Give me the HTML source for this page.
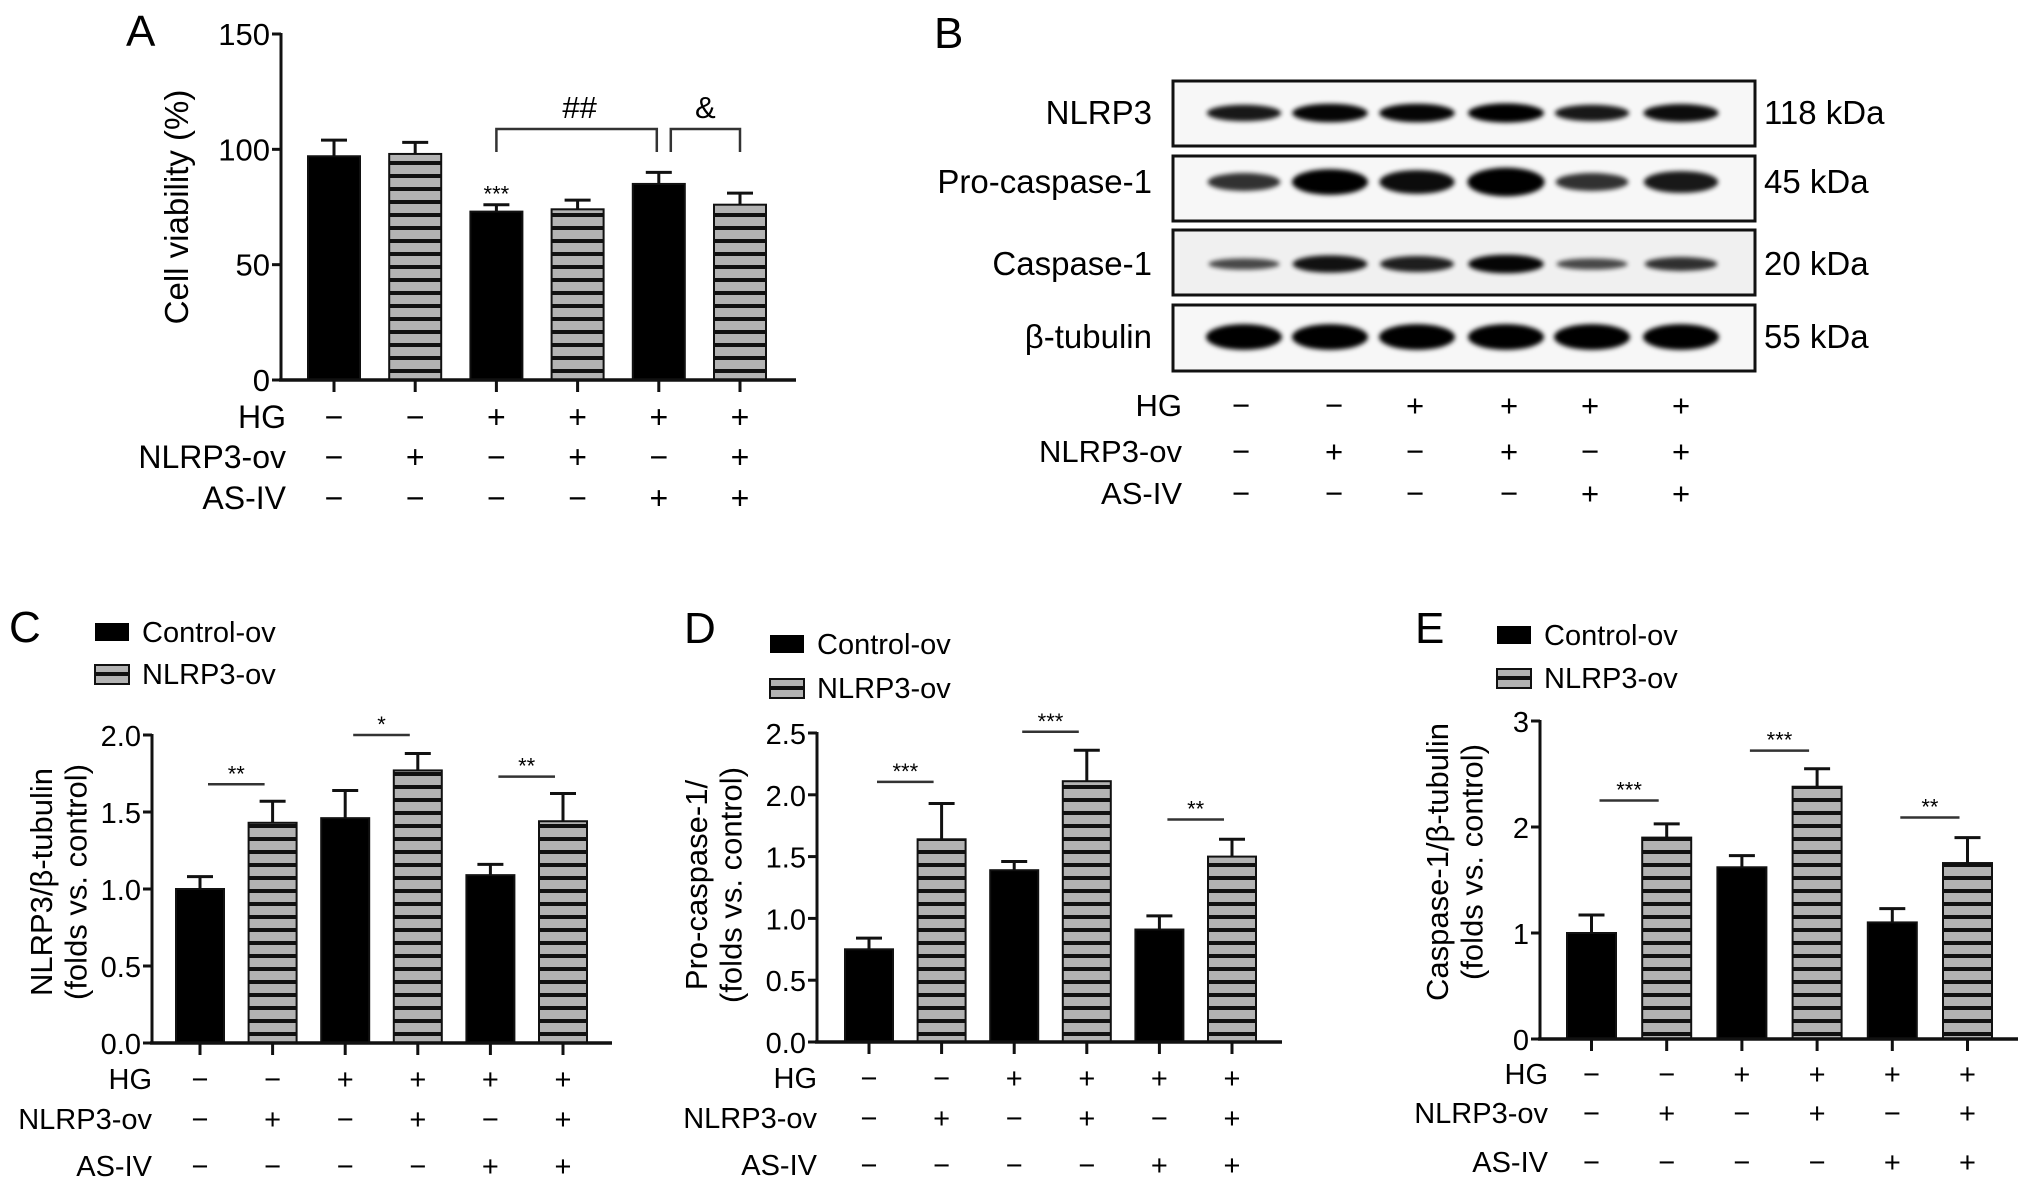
<!DOCTYPE html>
<html><head><meta charset="utf-8">
<style>
html,body{margin:0;padding:0;background:#fff;}
svg{display:block;font-family:"Liberation Sans",Arial,sans-serif;}
</style></head>
<body>
<svg id="fig" width="2032" height="1188" viewBox="0 0 2032 1188" xmlns="http://www.w3.org/2000/svg">
<defs>
<pattern id="hatch" patternUnits="userSpaceOnUse" width="20" height="13">
<rect width="20" height="13" fill="#b3b3b3"/><rect y="5" width="20" height="4" fill="#111"/>
</pattern>
<filter id="blur" x="-20%" y="-100%" width="140%" height="300%"><feGaussianBlur stdDeviation="2.5"/></filter>
</defs>
<g id="root"></g>
</svg>
<script>
// ---- data ----
const groups = ['g1','g2','g3','g4','g5','g6'];
const hgSigns = ['−','−','+','+','+','+'];
const nlrpSigns = ['−','+','−','+','−','+'];
const asivSigns = ['−','−','−','−','+','+'];

const aValues = [97, 98, 73, 74, 85, 76];
const aErrors = [104, 103, 76, 78, 90, 81];
const aTicks = [0, 50, 100, 150];

const cValues = [1.0, 1.43, 1.46, 1.77, 1.09, 1.44];
const cErrors = [1.08, 1.57, 1.64, 1.88, 1.16, 1.62];
const cTicks = ['0.0','0.5','1.0','1.5','2.0'];
const cSig = [['**',1.68],['*',2.0],['**',1.73]];

const dValues = [0.75, 1.64, 1.39, 2.11, 0.91, 1.50];
const dErrors = [0.84, 1.93, 1.46, 2.36, 1.02, 1.64];
const dTicks = ['0.0','0.5','1.0','1.5','2.0','2.5'];
const dSig = [['***',2.105],['***',2.51],['**',1.80]];

const eValues = [1.0, 1.90, 1.62, 2.38, 1.10, 1.66];
const eErrors = [1.17, 2.03, 1.73, 2.55, 1.23, 1.90];
const eTicks = ['0','1','2','3'];
const eSig = [['***',2.25],['***',2.72],['**',2.09]];

// blot band intensities (relative thickness)
const blotRows = ['NLRP3','Pro-caspase-1','Caspase-1','β-tubulin'];
const blotKda = ['118 kDa','45 kDa','20 kDa','55 kDa'];
const nlrp3Band = [0.8, 0.95, 0.95, 1.0, 0.8, 0.9];
const procaspBand = [0.6, 1.0, 0.9, 1.15, 0.6, 0.8];
const caspBand = [0.4, 0.85, 0.75, 0.95, 0.4, 0.6];
const tubulinBand = [1.0, 1.0, 1.0, 1.0, 1.0, 1.0];

const NS='http://www.w3.org/2000/svg';
const root=document.getElementById('root');
function el(tag, attrs, parent, text){
  const e=document.createElementNS(NS,tag);
  for(const k in attrs) e.setAttribute(k, attrs[k]);
  if(text!==undefined) e.textContent=text;
  (parent||root).appendChild(e);
  return e;
}

function panel(p){
  const g=el('g',{});
  
  
  const ymax=p.ymax;
  const y = v => p.y0 - (v/ymax)*(p.y0-p.ytop);
  const cx = i => p.c0 + i*p.pitch;
  const L=el('text',{x:p.lx,y:p.ly,'font-size':44},g,p.letter);
  
  
  const ya=el('line',{x1:p.ax,y1:p.ytop-1,x2:p.ax,y2:p.y0,stroke:'#111','stroke-width':3},g);
  
  
  p.ticks.forEach((t,i)=>{
    const v=i*ymax/(p.ticks.length-1);
    const ty=y(v);
    el('line',{x1:p.ax-9,y1:ty,x2:p.ax,y2:ty,stroke:'#111','stroke-width':3},g);
    const tl=el('text',{x:p.ax-11,y:ty+11,'font-size':p.tfs,'text-anchor':'end'},g,t);
    
    
  });
  const yt=el('text',{transform:`translate(${p.ytx},${p.yty}) rotate(-90)`,'font-size':p.ytfs,'text-anchor':'middle'},g);
  
  
  p.ytitle.forEach((line,i)=>{ el('tspan',{x:0,dy:i===0?0:p.ytfs*1.12},yt,line); });
  const bw=p.bw;
  p.values.forEach((v,i)=>{
    const x=cx(i)-bw/2;
    const ev=p.errors[i];
    el('line',{x1:cx(i),y1:y(v),x2:cx(i),y2:y(ev),stroke:'#111','stroke-width':3},g);
    el('line',{x1:cx(i)-13,y1:y(ev),x2:cx(i)+13,y2:y(ev),stroke:'#111','stroke-width':3},g);
    const b=el('rect',{x:x,y:y(v),width:bw,height:p.y0-y(v),fill:i%2?'url(#hatch)':'#000',stroke:'#111','stroke-width':2},g);
    
    
    el('line',{x1:cx(i),y1:p.y0,x2:cx(i),y2:p.y0+12,stroke:'#111','stroke-width':3},g);
  });
  const xa=el('line',{x1:p.ax-2,y1:p.y0,x2:p.xend,y2:p.y0,stroke:'#111','stroke-width':3.5},g);
  
  
  if(p.sig){
    p.sig.forEach((s,k)=>{
      const sy=y(s[1]);
      el('line',{x1:cx(2*k)+8,y1:sy,x2:cx(2*k+1)-8,y2:sy,stroke:'#333','stroke-width':2.5},g);
      const st=el('text',{x:(cx(2*k)+cx(2*k+1))/2,y:sy-3,'font-size':22,'text-anchor':'middle'},g,s[0]);
      
      
    });
  }
  if(p.leg){
    const lg=el('g',{},g);
    
    
    el('rect',{x:p.leg[0],y:p.leg[1],width:34,height:18,fill:'#000'},lg);
    el('text',{x:p.leg[0]+47,y:p.leg[1]+19,'font-size':29},lg,'Control-ov');
    el('rect',{x:p.leg[0],y:p.leg[2],width:34,height:19,fill:'#b3b3b3',stroke:'#111','stroke-width':2},lg);
    el('rect',{x:p.leg[0],y:p.leg[2]+7,width:34,height:4,fill:'#111'},lg);
    el('text',{x:p.leg[0]+47,y:p.leg[2]+19,'font-size':29},lg,'NLRP3-ov');
  }
  signRows(g, p.rows, p.rowRight, groups.map((_,i)=>cx(i)), p.fs);
  return {g,y,cx};
}

function signRows(g, rows, right, xs, fs){
  const names=['HG','NLRP3-ov','AS-IV'];
  const sets=[hgSigns,nlrpSigns,asivSigns];
  rows.forEach((ry,r)=>{
    const t=el('text',{x:right,y:ry+11,'font-size':fs,'text-anchor':'end'},g,names[r]);
    
    
    sets[r].forEach((s,i)=>{
      el('text',{x:xs[i],y:ry+11,'font-size':fs,'text-anchor':'middle'},g,s);
    });
  });
}

// Panel A
const A=panel({name:'panel-a-cell-viability',letter:'A',lx:126,ly:46,ax:281,y0:380,ytop:34,ymax:150,
  ticks:aTicks.map(String),fs:32,tfs:31,ytitle:['Cell viability (%)'],ytx:188,yty:207,ytfs:33,
  values:aValues,errors:aErrors,c0:334,pitch:81.2,bw:52,xend:796,rows:[417,457,498],rowRight:286});
(function(){
  const g=A.g;
  const b1=el('path',{d:`M${A.cx(2)} 152 V129 H${A.cx(4)-2} V152`,fill:'none',stroke:'#333','stroke-width':2.5},g);
  
  
  const b2=el('path',{d:`M${A.cx(4)+12} 152 V129 H${A.cx(5)} V152`,fill:'none',stroke:'#333','stroke-width':2.5},g);
  
  
  el('text',{x:(A.cx(2)+A.cx(4))/2+2,y:118,'font-size':31,'text-anchor':'middle'},g,'##');
  el('text',{x:(A.cx(4)+A.cx(5))/2+6,y:118,'font-size':31,'text-anchor':'middle'},g,'&');
  el('text',{x:A.cx(2),y:A.y(aErrors[2])-3,'font-size':22,'text-anchor':'middle'},g,'***');
})();

// Panel C
panel({name:'panel-c-nlrp3',letter:'C',lx:9,ly:642,ax:152,y0:1043,ytop:735,ymax:2.0,
  ticks:cTicks,fs:29,tfs:29,ytitle:['NLRP3/β-tubulin','(folds vs. control)'],ytx:52,yty:882,ytfs:31,
  values:cValues,errors:cErrors,c0:200,pitch:72.6,bw:48,xend:612,sig:cSig,leg:[95,623,665],
  rows:[1078,1118,1165],rowRight:152});
// Panel D
panel({name:'panel-d-procaspase1',letter:'D',lx:684,ly:643,ax:817,y0:1042,ytop:733,ymax:2.5,
  ticks:dTicks,fs:29,tfs:29,ytitle:['Pro-caspase-1/','(folds vs. control)'],ytx:707,yty:885,ytfs:31,
  values:dValues,errors:dErrors,c0:869,pitch:72.6,bw:48,xend:1282,sig:dSig,leg:[770,635,679],
  rows:[1077,1117,1164],rowRight:817});
// Panel E
panel({name:'panel-e-caspase1',letter:'E',lx:1415,ly:643,ax:1540,y0:1039,ytop:721,ymax:3,
  ticks:eTicks,fs:29,tfs:29,ytitle:['Caspase-1/β-tubulin','(folds vs. control)'],ytx:1448,yty:862,ytfs:31,
  values:eValues,errors:eErrors,c0:1591.5,pitch:75.2,bw:49,xend:2018,sig:eSig,leg:[1497,626,669],
  rows:[1073,1112,1161],rowRight:1548});

// Panel B: western blot
(function(){
  const g=el('g',{});
  
  
  el('text',{x:934,y:48,'font-size':44},g,'B');
  const boxes=[[81,146],[156,221],[230,295],[305,371]];
  const bandY=[113,182,264,337];
  const bands=[nlrp3Band,procaspBand,caspBand,tubulinBand];
  const baseH=[12,18,12,18];
  const lanes=[1244,1330,1417,1506,1592,1681];
  boxes.forEach((b,r)=>{
    const bg=el('g',{},g);
    
    
    el('rect',{x:1173,y:b[0],width:582,height:b[1]-b[0],fill:r===2?'#f0f0f0':'#f7f7f7',stroke:'#111','stroke-width':3},bg);
    bands[r].forEach((v,i)=>{
      el('ellipse',{cx:lanes[i],cy:bandY[r],rx:34+4*v,ry:baseH[r]*v*0.55+3,fill:'#000',opacity:0.5+0.5*Math.min(v,1),filter:'url(#blur)'},bg);
    });
    el('text',{x:1152,y:bandY[r]+11,'font-size':33,'text-anchor':'end'},g,blotRows[r]);
    el('text',{x:1764,y:bandY[r]+11,'font-size':33},g,blotKda[r]);
  });
  signRows(g,[405,451,493],1182,[1241,1334,1415,1509,1590,1681],31);
})();
</script>
</body></html>
